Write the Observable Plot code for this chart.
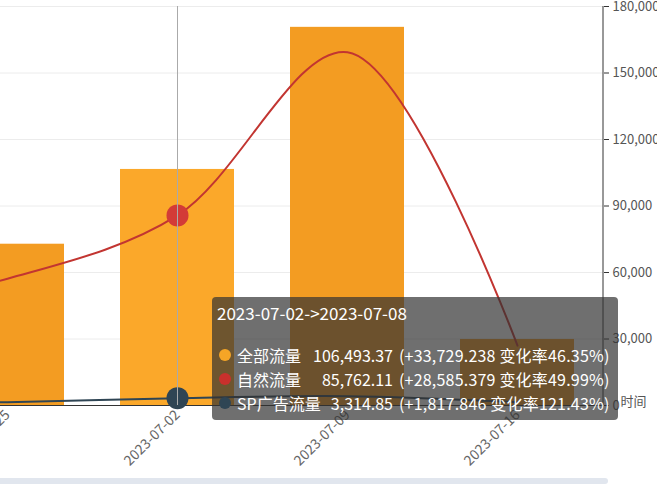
<!DOCTYPE html>
<html><head><meta charset="utf-8">
<script src="https://cdn.jsdelivr.net/npm/d3@7"></script>
<script src="https://cdn.jsdelivr.net/npm/@observablehq/plot@0.6"></script>
<style>
body{margin:0;background:#fff;font-family:"Microsoft YaHei","Noto Sans CJK SC",sans-serif;}
#wrap{position:relative;width:657px;height:484px;overflow:hidden;}
#wrap svg{position:absolute;left:0;top:0;}
#tip{position:absolute;left:212px;top:297px;width:406px;height:123px;background:rgba(50,50,50,0.7);border-radius:4px;color:#fff;font-size:16px;white-space:nowrap;}
#tip .t{position:absolute;left:5px;top:4px;line-height:24px;font-size:17px;}
#tip .row{position:absolute;left:0;height:24px;line-height:24px;width:100%;}
#tip .dot{position:absolute;left:7px;top:6px;width:12px;height:12px;border-radius:50%;}
#tip .nm{position:absolute;left:25px;}
#tip .val{position:absolute;left:91px;width:90px;text-align:right;}
#tip .dl{position:absolute;left:187px;letter-spacing:0.2px;}
#strip{position:absolute;left:0;top:478px;width:608px;height:6px;background:#e1e6ee;border-radius:0 4px 4px 0;}
</style></head><body><div id="wrap"></div>
<script>
// ---- data ----
const categories = ["2023-06-18","2023-06-25","2023-07-02","2023-07-09","2023-07-16"];
const totalFlow   = [60000, 72764.132, 106493.37, 170600, 29800];
const naturalFlow = [42000, 57176.731, 85762.11, 159400, 27000];
const spFlow      = [1000, 1497.004, 3314.85, 4200, 1500];
const yTicks = [0, 30000, 60000, 90000, 120000, 150000, 180000];
const seriesNames = ["全部流量", "自然流量", "SP广告流量"];
const seriesDotColors = ["#f5a526", "#c9302c", "#2f4554"];
const hoverIndex = 2;
const hoverTitle = "2023-07-02->2023-07-08";
const axisName = "时间";

const data = categories.map((c, i) => ({cat: c, total: totalFlow[i], natural: naturalFlow[i], sp: spFlow[i]}));
const hoverCat = categories[hoverIndex];
const hov = data.filter(d => d.cat === hoverCat);
const FONT = '"Microsoft YaHei","Noto Sans CJK SC",sans-serif';

const rightAxisLine = (index, scales, values, dims) => {
  const x = dims.width - dims.marginRight;
  return d3.create("svg:line")
    .attr("x1", x).attr("x2", x)
    .attr("y1", scales.y(yTicks[yTicks.length - 1])).attr("y2", scales.y(0))
    .attr("stroke", "#333").node();
};

const chart = Plot.plot({
  width: 657, height: 478,
  marginLeft: 0, marginRight: 54, marginTop: 6, marginBottom: 73,
  style: {fontFamily: FONT, fontSize: "13px", background: "transparent", overflow: "visible"},
  x: {type: "band", domain: categories, range: [-248, 602], paddingInner: 0.33, paddingOuter: 0.165, align: 0.5},
  y: {domain: [0, 180000]},
  marks: [
    Plot.gridY(yTicks, {stroke: "#ececec", strokeOpacity: 1}),
    Plot.barY(data, {x: "cat", y: "total", fill: d => d.cat === hoverCat ? "#fba82a" : "#f39c22", clip: true}),
    Plot.line(data, {x: "cat", y: "natural", stroke: "#c23531", strokeWidth: 2, curve: "catmull-rom", clip: true}),
    Plot.line(data, {x: "cat", y: "sp", stroke: "#2f4554", strokeWidth: 2, curve: "catmull-rom", clip: true}),
    Plot.ruleY([0], {stroke: "#333"}),
    Plot.dot(hov, {x: "cat", y: "natural", r: 11, fill: "#d33b37"}),
    Plot.dot(hov, {x: "cat", y: "sp", r: 11, fill: "#2f4554"}),
    Plot.ruleX([hoverCat], {y1: yTicks[yTicks.length - 1], y2: 0, stroke: "#aaa"}),
    rightAxisLine,
    Plot.axisY(yTicks, {anchor: "right", tickFormat: d3.format(","), tickSize: 5, tickPadding: 4, label: null, fill: "#555", stroke: "#333", fontSize: 13}),
    Plot.axisX({tickRotate: -45, tickSize: 0, tickPadding: 7, label: null, fill: "#666", fontSize: 14}),
    Plot.text([axisName], {frameAnchor: "bottom-right", dx: 17, textAnchor: "start", fill: "#555", fontSize: 13})
  ]
});
const wrap = document.getElementById("wrap");
wrap.appendChild(chart);

// tooltip built from the data arrays
const fmt2 = d3.format(",.2f"), fmt3 = d3.format(",.3f"), pct = d3.format(".2f");
const keys = ["total", "natural", "sp"];
const tip = document.createElement("div");
tip.id = "tip";
let html = `<div class="t">${hoverTitle}</div>`;
keys.forEach((k, i) => {
  const cur = data[hoverIndex][k], prev = data[hoverIndex - 1][k];
  const diff = cur - prev;
  html += `<div class="row" style="top:${46 + i * 24}px"><span class="dot" style="background:${seriesDotColors[i]}"></span>` +
    `<span class="nm">${seriesNames[i]}</span><span class="val">${fmt2(cur)}</span>` +
    `<span class="dl">(${diff >= 0 ? "+" : ""}${fmt3(diff)} 变化率${pct(diff / prev * 100)}%)</span></div>`;
});
tip.innerHTML = html;
wrap.appendChild(tip);
const strip = document.createElement("div");
strip.id = "strip";
wrap.appendChild(strip);
</script></body></html>
